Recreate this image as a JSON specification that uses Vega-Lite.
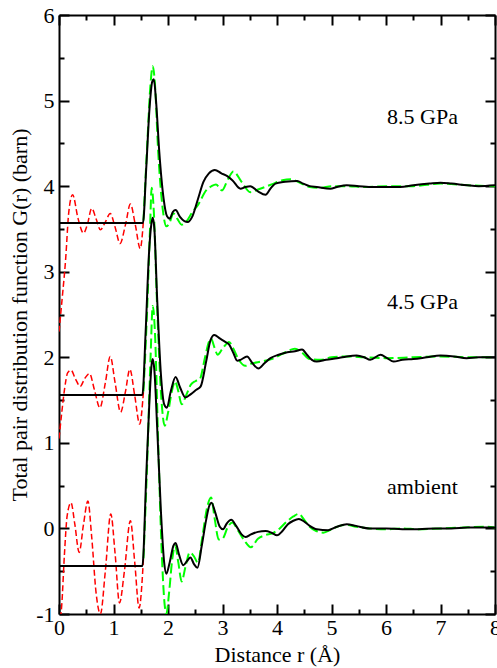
{
  "$schema": "https://vega.github.io/schema/vega-lite/v6.json",
  "width": 436,
  "height": 599,
  "autosize": {"type": "none"},
  "padding": {"left": 59, "top": 15, "right": 2, "bottom": 54},
  "background": "white",
  "config": {"view": {"stroke": null}},
  "datasets": {
    "labels": [
      {"r": 6.67, "g": 4.73, "label": "8.5 GPa"},
      {"r": 6.67, "g": 2.57, "label": "4.5 GPa"},
      {"r": 6.67, "g": 0.40, "label": "ambient"}
    ],
    "curves": [
      {"s":"0","k":"red","r":0,"g":-1.15},{"s":"0","k":"red","r":0.05,"g":-0.9},{"s":"0","k":"red","r":0.1,"g":-0.3},{"s":"0","k":"red","r":0.15,"g":0.15},{"s":"0","k":"red","r":0.22,"g":0.3},{"s":"0","k":"red","r":0.29,"g":0.05},{"s":"0","k":"red","r":0.37,"g":-0.28},{"s":"0","k":"red","r":0.45,"g":0.05},{"s":"0","k":"red","r":0.53,"g":0.32},{"s":"0","k":"red","r":0.6,"g":-0.1},{"s":"0","k":"red","r":0.68,"g":-0.75},{"s":"0","k":"red","r":0.76,"g":-1.0},{"s":"0","k":"red","r":0.85,"g":-0.5},{"s":"0","k":"red","r":0.95,"g":0.17},{"s":"0","k":"red","r":1.03,"g":-0.3},{"s":"0","k":"red","r":1.11,"g":-0.87},{"s":"0","k":"red","r":1.2,"g":-0.5},{"s":"0","k":"red","r":1.31,"g":0.09},{"s":"0","k":"red","r":1.39,"g":-0.4},{"s":"0","k":"red","r":1.47,"g":-0.93},{"s":"0","k":"red","r":1.55,"g":-0.35},
      {"s":"2","k":"red","r":0,"g":1.05},{"s":"2","k":"red","r":0.05,"g":1.35},{"s":"2","k":"red","r":0.1,"g":1.62},{"s":"2","k":"red","r":0.16,"g":1.82},{"s":"2","k":"red","r":0.22,"g":1.85},{"s":"2","k":"red","r":0.3,"g":1.75},{"s":"2","k":"red","r":0.39,"g":1.66},{"s":"2","k":"red","r":0.47,"g":1.75},{"s":"2","k":"red","r":0.56,"g":1.81},{"s":"2","k":"red","r":0.65,"g":1.62},{"s":"2","k":"red","r":0.75,"g":1.41},{"s":"2","k":"red","r":0.85,"g":1.7},{"s":"2","k":"red","r":0.94,"g":2.01},{"s":"2","k":"red","r":1.03,"g":1.7},{"s":"2","k":"red","r":1.13,"g":1.36},{"s":"2","k":"red","r":1.22,"g":1.6},{"s":"2","k":"red","r":1.3,"g":1.86},{"s":"2","k":"red","r":1.39,"g":1.55},{"s":"2","k":"red","r":1.48,"g":1.22},{"s":"2","k":"red","r":1.55,"g":1.6},
      {"s":"4","k":"red","r":0,"g":2.3},{"s":"4","k":"red","r":0.06,"g":2.7},{"s":"4","k":"red","r":0.12,"g":3.13},{"s":"4","k":"red","r":0.18,"g":3.7},{"s":"4","k":"red","r":0.25,"g":3.9},{"s":"4","k":"red","r":0.35,"g":3.62},{"s":"4","k":"red","r":0.45,"g":3.45},{"s":"4","k":"red","r":0.52,"g":3.55},{"s":"4","k":"red","r":0.6,"g":3.74},{"s":"4","k":"red","r":0.68,"g":3.62},{"s":"4","k":"red","r":0.76,"g":3.49},{"s":"4","k":"red","r":0.85,"g":3.58},{"s":"4","k":"red","r":0.94,"g":3.68},{"s":"4","k":"red","r":1.03,"g":3.52},{"s":"4","k":"red","r":1.12,"g":3.33},{"s":"4","k":"red","r":1.22,"g":3.55},{"s":"4","k":"red","r":1.31,"g":3.79},{"s":"4","k":"red","r":1.4,"g":3.55},{"s":"4","k":"red","r":1.49,"g":3.27},{"s":"4","k":"red","r":1.55,"g":3.6},
      {"s":"0","k":"green","r":1.55,"g":-0.35},{"s":"0","k":"green","r":1.62,"g":0.8},{"s":"0","k":"green","r":1.68,"g":2.0},{"s":"0","k":"green","r":1.72,"g":2.6},{"s":"0","k":"green","r":1.76,"g":2.3},{"s":"0","k":"green","r":1.82,"g":1.0},{"s":"0","k":"green","r":1.88,"g":-0.2},{"s":"0","k":"green","r":1.94,"g":-0.9},{"s":"0","k":"green","r":1.97,"g":-1.0},{"s":"0","k":"green","r":2.02,"g":-0.75},{"s":"0","k":"green","r":2.08,"g":-0.35},{"s":"0","k":"green","r":2.13,"g":-0.2},{"s":"0","k":"green","r":2.19,"g":-0.4},{"s":"0","k":"green","r":2.25,"g":-0.62},{"s":"0","k":"green","r":2.32,"g":-0.45},{"s":"0","k":"green","r":2.4,"g":-0.28},{"s":"0","k":"green","r":2.47,"g":-0.32},{"s":"0","k":"green","r":2.55,"g":-0.4},{"s":"0","k":"green","r":2.63,"g":-0.1},{"s":"0","k":"green","r":2.72,"g":0.25},{"s":"0","k":"green","r":2.79,"g":0.36},{"s":"0","k":"green","r":2.86,"g":0.1},{"s":"0","k":"green","r":2.93,"g":-0.13},{"s":"0","k":"green","r":3.0,"g":-0.12},{"s":"0","k":"green","r":3.1,"g":0.02},{"s":"0","k":"green","r":3.18,"g":0.07},{"s":"0","k":"green","r":3.28,"g":-0.02},{"s":"0","k":"green","r":3.4,"g":-0.14},{"s":"0","k":"green","r":3.52,"g":-0.22},{"s":"0","k":"green","r":3.65,"g":-0.12},{"s":"0","k":"green","r":3.78,"g":-0.08},{"s":"0","k":"green","r":3.94,"g":-0.05},{"s":"0","k":"green","r":4.05,"g":0.0},{"s":"0","k":"green","r":4.18,"g":0.08},{"s":"0","k":"green","r":4.3,"g":0.14},{"s":"0","k":"green","r":4.4,"g":0.17},{"s":"0","k":"green","r":4.5,"g":0.1},{"s":"0","k":"green","r":4.6,"g":0.02},{"s":"0","k":"green","r":4.72,"g":-0.03},{"s":"0","k":"green","r":4.85,"g":-0.05},{"s":"0","k":"green","r":5.0,"g":-0.01},{"s":"0","k":"green","r":5.15,"g":0.03},{"s":"0","k":"green","r":5.28,"g":0.04},{"s":"0","k":"green","r":5.45,"g":0.02},{"s":"0","k":"green","r":5.7,"g":0.0},{"s":"0","k":"green","r":6.0,"g":-0.01},{"s":"0","k":"green","r":6.3,"g":0.0},{"s":"0","k":"green","r":6.6,"g":-0.01},{"s":"0","k":"green","r":7.0,"g":0.0},{"s":"0","k":"green","r":7.4,"g":0.01},{"s":"0","k":"green","r":7.8,"g":0.02},{"s":"0","k":"green","r":8.0,"g":0.01},
      {"s":"2","k":"green","r":1.55,"g":1.6},{"s":"2","k":"green","r":1.62,"g":2.6},{"s":"2","k":"green","r":1.67,"g":3.5},{"s":"2","k":"green","r":1.7,"g":3.98},{"s":"2","k":"green","r":1.74,"g":3.7},{"s":"2","k":"green","r":1.8,"g":2.6},{"s":"2","k":"green","r":1.88,"g":1.5},{"s":"2","k":"green","r":1.94,"g":1.2},{"s":"2","k":"green","r":2.0,"g":1.35},{"s":"2","k":"green","r":2.07,"g":1.6},{"s":"2","k":"green","r":2.13,"g":1.72},{"s":"2","k":"green","r":2.19,"g":1.6},{"s":"2","k":"green","r":2.25,"g":1.45},{"s":"2","k":"green","r":2.33,"g":1.55},{"s":"2","k":"green","r":2.42,"g":1.68},{"s":"2","k":"green","r":2.5,"g":1.72},{"s":"2","k":"green","r":2.58,"g":1.74},{"s":"2","k":"green","r":2.68,"g":2.0},{"s":"2","k":"green","r":2.75,"g":2.18},{"s":"2","k":"green","r":2.79,"g":2.22},{"s":"2","k":"green","r":2.85,"g":2.12},{"s":"2","k":"green","r":2.91,"g":2.03},{"s":"2","k":"green","r":3.0,"g":2.1},{"s":"2","k":"green","r":3.12,"g":2.18},{"s":"2","k":"green","r":3.2,"g":2.1},{"s":"2","k":"green","r":3.3,"g":1.97},{"s":"2","k":"green","r":3.42,"g":1.9},{"s":"2","k":"green","r":3.55,"g":1.93},{"s":"2","k":"green","r":3.7,"g":1.95},{"s":"2","k":"green","r":3.9,"g":1.98},{"s":"2","k":"green","r":4.1,"g":2.04},{"s":"2","k":"green","r":4.33,"g":2.1},{"s":"2","k":"green","r":4.45,"g":2.06},{"s":"2","k":"green","r":4.6,"g":1.98},{"s":"2","k":"green","r":4.8,"g":1.97},{"s":"2","k":"green","r":5.0,"g":2.0},{"s":"2","k":"green","r":5.3,"g":2.01},{"s":"2","k":"green","r":5.6,"g":2.0},{"s":"2","k":"green","r":6.0,"g":1.99},{"s":"2","k":"green","r":6.5,"g":2.0},{"s":"2","k":"green","r":7.0,"g":2.01},{"s":"2","k":"green","r":7.5,"g":2.0},{"s":"2","k":"green","r":8.0,"g":2.0},
      {"s":"4","k":"green","r":1.55,"g":3.6},{"s":"4","k":"green","r":1.62,"g":4.5},{"s":"4","k":"green","r":1.68,"g":5.2},{"s":"4","k":"green","r":1.72,"g":5.4},{"s":"4","k":"green","r":1.76,"g":5.2},{"s":"4","k":"green","r":1.82,"g":4.4},{"s":"4","k":"green","r":1.9,"g":3.75},{"s":"4","k":"green","r":1.97,"g":3.53},{"s":"4","k":"green","r":2.02,"g":3.56},{"s":"4","k":"green","r":2.1,"g":3.68},{"s":"4","k":"green","r":2.17,"g":3.62},{"s":"4","k":"green","r":2.25,"g":3.55},{"s":"4","k":"green","r":2.33,"g":3.58},{"s":"4","k":"green","r":2.45,"g":3.7},{"s":"4","k":"green","r":2.55,"g":3.78},{"s":"4","k":"green","r":2.7,"g":3.95},{"s":"4","k":"green","r":2.8,"g":4.0},{"s":"4","k":"green","r":2.88,"g":4.02},{"s":"4","k":"green","r":2.99,"g":3.95},{"s":"4","k":"green","r":3.1,"g":4.08},{"s":"4","k":"green","r":3.2,"g":4.17},{"s":"4","k":"green","r":3.35,"g":4.05},{"s":"4","k":"green","r":3.51,"g":3.93},{"s":"4","k":"green","r":3.65,"g":3.96},{"s":"4","k":"green","r":3.9,"g":4.02},{"s":"4","k":"green","r":4.1,"g":4.07},{"s":"4","k":"green","r":4.25,"g":4.08},{"s":"4","k":"green","r":4.45,"g":4.03},{"s":"4","k":"green","r":4.6,"g":3.99},{"s":"4","k":"green","r":4.8,"g":3.98},{"s":"4","k":"green","r":5.0,"g":4.0},{"s":"4","k":"green","r":5.3,"g":4.0},{"s":"4","k":"green","r":5.6,"g":3.99},{"s":"4","k":"green","r":6.0,"g":4.0},{"s":"4","k":"green","r":6.5,"g":4.0},{"s":"4","k":"green","r":7.0,"g":4.03},{"s":"4","k":"green","r":7.5,"g":4.01},{"s":"4","k":"green","r":8.0,"g":4.0},
      {"s":"0","k":"black","r":0,"g":-0.44},{"s":"0","k":"black","r":1.53,"g":-0.44},{"s":"0","k":"black","r":1.6,"g":0.6},{"s":"0","k":"black","r":1.66,"g":1.5},{"s":"0","k":"black","r":1.7,"g":1.92},{"s":"0","k":"black","r":1.72,"g":1.98},{"s":"0","k":"black","r":1.75,"g":1.85},{"s":"0","k":"black","r":1.8,"g":1.2},{"s":"0","k":"black","r":1.87,"g":0.2},{"s":"0","k":"black","r":1.93,"g":-0.4},{"s":"0","k":"black","r":1.97,"g":-0.53},{"s":"0","k":"black","r":2.03,"g":-0.4},{"s":"0","k":"black","r":2.1,"g":-0.2},{"s":"0","k":"black","r":2.14,"g":-0.17},{"s":"0","k":"black","r":2.2,"g":-0.3},{"s":"0","k":"black","r":2.28,"g":-0.43},{"s":"0","k":"black","r":2.35,"g":-0.38},{"s":"0","k":"black","r":2.41,"g":-0.34},{"s":"0","k":"black","r":2.48,"g":-0.42},{"s":"0","k":"black","r":2.54,"g":-0.46},{"s":"0","k":"black","r":2.62,"g":-0.2},{"s":"0","k":"black","r":2.7,"g":0.1},{"s":"0","k":"black","r":2.76,"g":0.27},{"s":"0","k":"black","r":2.8,"g":0.3},{"s":"0","k":"black","r":2.86,"g":0.2},{"s":"0","k":"black","r":2.95,"g":0.02},{"s":"0","k":"black","r":3.01,"g":-0.01},{"s":"0","k":"black","r":3.08,"g":0.06},{"s":"0","k":"black","r":3.16,"g":0.1},{"s":"0","k":"black","r":3.25,"g":0.03},{"s":"0","k":"black","r":3.35,"g":-0.07},{"s":"0","k":"black","r":3.42,"g":-0.1},{"s":"0","k":"black","r":3.52,"g":-0.07},{"s":"0","k":"black","r":3.65,"g":-0.04},{"s":"0","k":"black","r":3.79,"g":-0.03},{"s":"0","k":"black","r":3.9,"g":-0.05},{"s":"0","k":"black","r":4.0,"g":-0.08},{"s":"0","k":"black","r":4.1,"g":-0.03},{"s":"0","k":"black","r":4.2,"g":0.05},{"s":"0","k":"black","r":4.3,"g":0.09},{"s":"0","k":"black","r":4.4,"g":0.11},{"s":"0","k":"black","r":4.5,"g":0.08},{"s":"0","k":"black","r":4.6,"g":0.03},{"s":"0","k":"black","r":4.73,"g":-0.01},{"s":"0","k":"black","r":4.94,"g":-0.02},{"s":"0","k":"black","r":5.1,"g":0.02},{"s":"0","k":"black","r":5.28,"g":0.05},{"s":"0","k":"black","r":5.45,"g":0.03},{"s":"0","k":"black","r":5.7,"g":0.0},{"s":"0","k":"black","r":6.0,"g":0.0},{"s":"0","k":"black","r":6.3,"g":-0.01},{"s":"0","k":"black","r":6.6,"g":-0.01},{"s":"0","k":"black","r":6.9,"g":0.0},{"s":"0","k":"black","r":7.2,"g":0.0},{"s":"0","k":"black","r":7.5,"g":0.01},{"s":"0","k":"black","r":7.8,"g":0.01},{"s":"0","k":"black","r":8.0,"g":0.01},
      {"s":"2","k":"black","r":0,"g":1.56},{"s":"2","k":"black","r":1.53,"g":1.56},{"s":"2","k":"black","r":1.59,"g":2.3},{"s":"2","k":"black","r":1.65,"g":3.2},{"s":"2","k":"black","r":1.7,"g":3.58},{"s":"2","k":"black","r":1.72,"g":3.63},{"s":"2","k":"black","r":1.75,"g":3.5},{"s":"2","k":"black","r":1.8,"g":2.7},{"s":"2","k":"black","r":1.87,"g":1.8},{"s":"2","k":"black","r":1.93,"g":1.45},{"s":"2","k":"black","r":1.98,"g":1.41},{"s":"2","k":"black","r":2.05,"g":1.6},{"s":"2","k":"black","r":2.14,"g":1.77},{"s":"2","k":"black","r":2.22,"g":1.65},{"s":"2","k":"black","r":2.32,"g":1.53},{"s":"2","k":"black","r":2.42,"g":1.57},{"s":"2","k":"black","r":2.52,"g":1.62},{"s":"2","k":"black","r":2.6,"g":1.66},{"s":"2","k":"black","r":2.7,"g":1.95},{"s":"2","k":"black","r":2.78,"g":2.2},{"s":"2","k":"black","r":2.85,"g":2.26},{"s":"2","k":"black","r":2.95,"g":2.22},{"s":"2","k":"black","r":3.05,"g":2.18},{"s":"2","k":"black","r":3.12,"g":2.15},{"s":"2","k":"black","r":3.2,"g":2.05},{"s":"2","k":"black","r":3.27,"g":1.96},{"s":"2","k":"black","r":3.33,"g":1.97},{"s":"2","k":"black","r":3.45,"g":2.01},{"s":"2","k":"black","r":3.55,"g":1.93},{"s":"2","k":"black","r":3.66,"g":1.87},{"s":"2","k":"black","r":3.77,"g":1.93},{"s":"2","k":"black","r":3.88,"g":1.99},{"s":"2","k":"black","r":4.03,"g":2.03},{"s":"2","k":"black","r":4.19,"g":2.06},{"s":"2","k":"black","r":4.33,"g":2.07},{"s":"2","k":"black","r":4.46,"g":2.09},{"s":"2","k":"black","r":4.55,"g":2.03},{"s":"2","k":"black","r":4.64,"g":1.97},{"s":"2","k":"black","r":4.73,"g":1.95},{"s":"2","k":"black","r":4.9,"g":1.97},{"s":"2","k":"black","r":5.1,"g":1.99},{"s":"2","k":"black","r":5.28,"g":2.01},{"s":"2","k":"black","r":5.46,"g":2.02},{"s":"2","k":"black","r":5.6,"g":2.0},{"s":"2","k":"black","r":5.71,"g":1.97},{"s":"2","k":"black","r":5.9,"g":2.03},{"s":"2","k":"black","r":6.02,"g":1.99},{"s":"2","k":"black","r":6.14,"g":1.95},{"s":"2","k":"black","r":6.3,"g":1.97},{"s":"2","k":"black","r":6.5,"g":1.98},{"s":"2","k":"black","r":6.75,"g":2.0},{"s":"2","k":"black","r":7.0,"g":2.02},{"s":"2","k":"black","r":7.25,"g":2.01},{"s":"2","k":"black","r":7.48,"g":1.99},{"s":"2","k":"black","r":7.7,"g":2.0},{"s":"2","k":"black","r":8.0,"g":2.0},
      {"s":"4","k":"black","r":0,"g":3.57},{"s":"4","k":"black","r":1.54,"g":3.57},{"s":"4","k":"black","r":1.6,"g":4.2},{"s":"4","k":"black","r":1.66,"g":4.9},{"s":"4","k":"black","r":1.71,"g":5.22},{"s":"4","k":"black","r":1.74,"g":5.25},{"s":"4","k":"black","r":1.78,"g":5.0},{"s":"4","k":"black","r":1.84,"g":4.4},{"s":"4","k":"black","r":1.92,"g":3.85},{"s":"4","k":"black","r":1.98,"g":3.65},{"s":"4","k":"black","r":2.03,"g":3.62},{"s":"4","k":"black","r":2.09,"g":3.7},{"s":"4","k":"black","r":2.14,"g":3.72},{"s":"4","k":"black","r":2.22,"g":3.64},{"s":"4","k":"black","r":2.3,"g":3.59},{"s":"4","k":"black","r":2.36,"g":3.58},{"s":"4","k":"black","r":2.45,"g":3.65},{"s":"4","k":"black","r":2.55,"g":3.85},{"s":"4","k":"black","r":2.65,"g":4.05},{"s":"4","k":"black","r":2.75,"g":4.15},{"s":"4","k":"black","r":2.86,"g":4.19},{"s":"4","k":"black","r":2.98,"g":4.15},{"s":"4","k":"black","r":3.08,"g":4.12},{"s":"4","k":"black","r":3.18,"g":4.07},{"s":"4","k":"black","r":3.33,"g":3.97},{"s":"4","k":"black","r":3.42,"g":3.99},{"s":"4","k":"black","r":3.51,"g":4.0},{"s":"4","k":"black","r":3.65,"g":3.94},{"s":"4","k":"black","r":3.79,"g":3.9},{"s":"4","k":"black","r":3.88,"g":3.97},{"s":"4","k":"black","r":3.97,"g":4.03},{"s":"4","k":"black","r":4.15,"g":4.05},{"s":"4","k":"black","r":4.37,"g":4.06},{"s":"4","k":"black","r":4.48,"g":4.03},{"s":"4","k":"black","r":4.6,"g":4.0},{"s":"4","k":"black","r":4.73,"g":3.99},{"s":"4","k":"black","r":4.98,"g":3.97},{"s":"4","k":"black","r":5.1,"g":3.99},{"s":"4","k":"black","r":5.28,"g":4.01},{"s":"4","k":"black","r":5.5,"g":4.0},{"s":"4","k":"black","r":5.77,"g":3.99},{"s":"4","k":"black","r":6.0,"g":3.99},{"s":"4","k":"black","r":6.26,"g":3.99},{"s":"4","k":"black","r":6.5,"g":4.01},{"s":"4","k":"black","r":6.8,"g":4.03},{"s":"4","k":"black","r":7.0,"g":4.04},{"s":"4","k":"black","r":7.2,"g":4.03},{"s":"4","k":"black","r":7.49,"g":4.01},{"s":"4","k":"black","r":7.7,"g":4.0},{"s":"4","k":"black","r":8.0,"g":4.01}
    ]
  },
  "resolve": {"axis": {"x": "independent", "y": "independent"}},
  "layer": [
    {
      "data": {"name": "curves"},
      "transform": [{"filter": "datum.k === 'red'"}],
      "mark": {"type": "line", "color": "#ff0000", "strokeWidth": 1.5, "strokeDash": [6, 3], "interpolate": "monotone", "clip": true},
      "encoding": {
        "x": {"field": "r", "type": "quantitative", "scale": {"domain": [0, 8], "nice": false, "zero": false},
          "axis": {"orient": "bottom", "values": [0,0.5,1,1.5,2,2.5,3,3.5,4,4.5,5,5.5,6,6.5,7,7.5,8],
            "labelExpr": "datum.value % 1 === 0 ? '' + datum.value : ''",
            "tickSize": {"condition": {"test": "datum.value % 1 === 0", "value": -10}, "value": -5},
            "labelPadding": 13, "tickColor": "black", "tickWidth": 2, "domainColor": "black", "domainWidth": 2,
            "labelFont": "Liberation Serif", "labelFontSize": 22, "labelColor": "black", "labelFlush": false, "labelOverlap": false, "grid": false,
            "title": "Distance r (Å)", "titleFont": "Liberation Serif", "titleFontSize": 22, "titleFontWeight": "normal", "titleColor": "black", "titlePadding": 1}},
        "y": {"field": "g", "type": "quantitative", "scale": {"domain": [-1, 6], "nice": false, "zero": false},
          "axis": {"orient": "left", "values": [-1,-0.5,0,0.5,1,1.5,2,2.5,3,3.5,4,4.5,5,5.5,6],
            "labelExpr": "datum.value % 1 === 0 ? '' + datum.value : ''",
            "tickSize": {"condition": {"test": "datum.value % 1 === 0", "value": -10}, "value": -5},
            "labelPadding": 15, "tickColor": "black", "tickWidth": 2, "domainColor": "black", "domainWidth": 2,
            "labelFont": "Liberation Serif", "labelFontSize": 22, "labelColor": "black", "labelFlush": false, "labelOverlap": false, "grid": false,
            "title": "Total pair distribution function G(r) (barn)", "titleFont": "Liberation Serif", "titleFontSize": 22, "titleFontWeight": "normal", "titleColor": "black", "titlePadding": 4}},
        "detail": {"field": "s"},
        "order": {"field": "r", "type": "quantitative"}
      }
    },
    {
      "data": {"name": "curves"},
      "transform": [{"filter": "datum.k === 'green'"}],
      "mark": {"type": "line", "color": "#00ff00", "strokeWidth": 2, "strokeDash": [10, 4], "interpolate": "monotone", "clip": true},
      "encoding": {
        "x": {"field": "r", "type": "quantitative", "axis": null},
        "y": {"field": "g", "type": "quantitative", "axis": null},
        "detail": {"field": "s"},
        "order": {"field": "r", "type": "quantitative"}
      }
    },
    {
      "data": {"name": "curves"},
      "transform": [{"filter": "datum.k === 'black'"}],
      "mark": {"type": "line", "color": "#000000", "strokeWidth": 2, "interpolate": "monotone", "clip": true},
      "encoding": {
        "x": {"field": "r", "type": "quantitative", "axis": null},
        "y": {"field": "g", "type": "quantitative", "axis": null},
        "detail": {"field": "s"},
        "order": {"field": "r", "type": "quantitative"}
      }
    },
    {
      "data": {"name": "labels"},
      "mark": {"type": "text", "font": "Liberation Serif", "fontSize": 22, "align": "center", "baseline": "alphabetic", "color": "black"},
      "encoding": {
        "x": {"field": "r", "type": "quantitative",
          "axis": {"orient": "top", "values": [0,0.5,1,1.5,2,2.5,3,3.5,4,4.5,5,5.5,6,6.5,7,7.5,8], "labels": false, "title": null,
            "tickSize": {"condition": {"test": "datum.value % 1 === 0", "value": -10}, "value": -5},
            "tickColor": "black", "tickWidth": 2, "domainColor": "black", "domainWidth": 2, "grid": false}},
        "y": {"field": "g", "type": "quantitative",
          "axis": {"orient": "right", "values": [-1,-0.5,0,0.5,1,1.5,2,2.5,3,3.5,4,4.5,5,5.5,6], "labels": false, "title": null,
            "tickSize": {"condition": {"test": "datum.value % 1 === 0", "value": -10}, "value": -5},
            "tickColor": "black", "tickWidth": 2, "domainColor": "black", "domainWidth": 2, "grid": false}},
        "text": {"field": "label"}
      }
    }
  ]
}
